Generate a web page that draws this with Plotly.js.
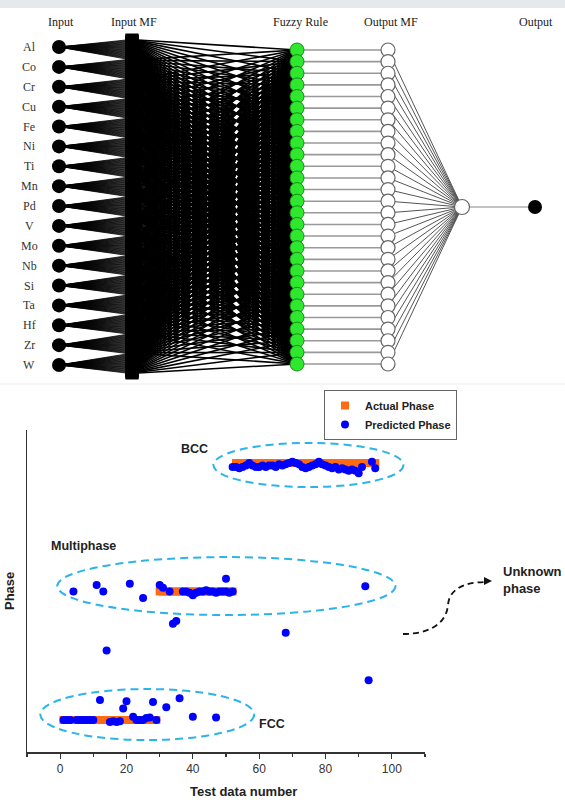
<!DOCTYPE html>
<html>
<head>
<meta charset="utf-8">
<script src="https://cdn.plot.ly/plotly-3.0.1.min.js"></script>
<style>html,body{margin:0;padding:0;background:#fff;}#chart{width:565px;height:800px;}</style>
</head>
<body>
<div id="chart"></div>
<script>
// ---------- DATA ----------
// ANFIS structure (top diagram)
const inputNames = ['Al','Co','Cr','Cu','Fe','Ni','Ti','Mn','Pd','V','Mo','Nb','Si','Ta','Hf','Zr','W'];
const nRules = 28;
const layerNames = ['Input','Input MF','Fuzzy Rule','Output MF','Output'];

// Phase codes: 1 = FCC, 2 = Multiphase, 3 = BCC
const phaseLabels = ['FCC','Multiphase','BCC'];

// Actual phase of each test data number
const actualX = [1,2,3,4,5,6,7,8,9,10,11,12,13,14,15,16,17,18,19,20,21,22,23,24,25,26,27,28,29,
  30,31,32,33,34,35,36,37,38,39,40,41,42,43,44,45,46,47,48,49,50,51,52,
  53,54,55,56,57,58,59,60,61,62,63,64,65,66,67,68,69,70,71,72,73,74,75,76,77,78,79,80,81,82,83,84,85,86,87,88,89,90,91,92,93,94,95];
const actualY = [1,1,1,1,1,1,1,1,1,1,1,1,1,1,1,1,1,1,1,1,1,1,1,1,1,1,1,1,1,
  2,2,2,2,2,2,2,2,2,2,2,2,2,2,2,2,2,2,2,2,2,2,2,
  3,3,3,3,3,3,3,3,3,3,3,3,3,3,3,3,3,3,3,3,3,3,3,3,3,3,3,3,3,3,3,3,3,3,3,3,3,3,3,3,3,3,3];

// Predicted phase
const predX = [1,2,3,5,6,7,8,9,10,12,15,16,17,18,19,20,22,23,24,25,26,27,28,29,32,36,40,47,
  4,11,13,21,25,30,31,33,37,38,39,40,41,42,43,44,45,46,47,48,49,50,51,52,50,92,
  14,34,35,68,93,
  52,53,54,55,56,57,58,59,60,61,62,63,64,65,66,67,68,69,70,71,72,73,74,75,76,77,78,79,80,81,82,83,84,85,86,87,88,89,90,91,94,95];
const predY = [1.0,1.0,1.0,1.0,1.0,1.0,1.0,1.0,1.0,1.156,0.985,0.99,0.985,0.99,1.09,1.145,1.025,1.0,1.0,1.0,1.015,1.02,1.14,1.0,1.1,1.17,1.025,1.02,
  2.0,2.05,2.0,2.06,1.95,2.05,2.03,2.0,2.0,2.0,1.99,1.97,1.99,2.0,2.0,2.01,2.0,2.0,1.99,2.0,2.0,2.0,1.99,2.0,2.1,2.04,
  1.54,1.75,1.77,1.68,1.31,
  2.97,2.97,2.96,2.97,2.98,3.0,2.98,2.97,2.97,2.98,2.97,2.98,2.98,2.97,2.99,2.98,2.99,3.0,3.01,3.0,2.99,2.97,2.96,2.97,2.98,2.99,3.01,2.99,2.98,2.97,2.96,2.97,2.95,2.96,2.95,2.94,2.95,2.94,2.92,2.97,3.01,2.96];

// ---------- GEOMETRY (diagram layout, pixels) ----------
const W = 565, H = 800;
const G = {inX:59, inY0:47, inY1:365, mfXa:126, mfX:132, mfXb:138, mfY0:40, mfY1:373,
  ruleX:297, ruleY0:50, ruleY1:364, omfX:388, aggX:462, aggY:207, outX:535, hdrY:22, nameX:29};
const hdrX = [61,134,300,391,536];

const nIn = inputNames.length;
const inY = i => G.inY0 + i*(G.inY1-G.inY0)/(nIn-1);
const mfY = (i,j) => G.mfY0 + (i*nRules + j)*(G.mfY1-G.mfY0)/(nIn*nRules-1);
const ruleY = j => G.ruleY0 + j*(G.ruleY1-G.ruleY0)/(nRules-1);

const fanX=[], fanY=[], crossX=[], crossY=[], mfNX=[], mfNY=[];
for (let i=0;i<nIn;i++){
  for (let j=0;j<nRules;j++){
    fanX.push(G.inX, G.mfXa, null); fanY.push(inY(i), mfY(i,j), null);
    crossX.push(G.mfXb, G.ruleX, null); crossY.push(mfY(i,j), ruleY(j), null);
    mfNX.push(G.mfX); mfNY.push(mfY(i,j));
  }
}
const rX=[], rY=[], oX=[], oY=[], hX=[], hY=[], aX=[], aY=[];
for (let j=0;j<nRules;j++){
  rX.push(G.ruleX); rY.push(ruleY(j));
  oX.push(G.omfX); oY.push(ruleY(j));
  hX.push(G.ruleX, G.omfX, null); hY.push(ruleY(j), ruleY(j), null);
  aX.push(G.omfX, G.aggX, null); aY.push(ruleY(j), G.aggY, null);
}
const inXs = inputNames.map(()=>G.inX), inYs = inputNames.map((_,i)=>inY(i));

const D = {xaxis:'x2', yaxis:'y2', showlegend:false, hoverinfo:'skip'};
const traces = [
  Object.assign({type:'scatter', mode:'lines', x:crossX, y:crossY, line:{color:'#000', width:1.6}}, D),
  Object.assign({type:'scatter', mode:'lines', x:fanX, y:fanY, line:{color:'#000', width:0.8}}, D),
  Object.assign({type:'scatter', mode:'markers', x:mfNX, y:mfNY, marker:{symbol:'square', size:13, color:'#000'}}, D),
  Object.assign({type:'scatter', mode:'lines', x:hX, y:hY, line:{color:'#999', width:1.6}}, D),
  Object.assign({type:'scatter', mode:'lines', x:aX, y:aY, line:{color:'#555', width:1}}, D),
  Object.assign({type:'scatter', mode:'lines', x:[G.aggX, G.outX], y:[G.aggY, G.aggY], line:{color:'#888', width:1.2}}, D),
  Object.assign({type:'scatter', mode:'markers', x:inXs, y:inYs, marker:{size:14, color:'#000'}}, D),
  Object.assign({type:'scatter', mode:'markers', x:rX, y:rY, marker:{size:14, color:'#2ee82e', line:{color:'#1d8a1d', width:1}}}, D),
  Object.assign({type:'scatter', mode:'markers', x:oX, y:oY, marker:{size:14, color:'#fff', line:{color:'#666', width:1.2}}}, D),
  Object.assign({type:'scatter', mode:'markers', x:[G.aggX], y:[G.aggY], marker:{size:15, color:'#fff', line:{color:'#666', width:1.2}}}, D),
  Object.assign({type:'scatter', mode:'markers', x:[G.outX], y:[G.aggY], marker:{size:14, color:'#000'}}, D),
  // bottom chart
  {type:'scatter', mode:'markers', name:'Actual Phase', x:actualX, y:actualY, xaxis:'x', yaxis:'y',
   marker:{symbol:'square', size:8, color:'#ff6a13'}},
  {type:'scatter', mode:'markers', name:'Predicted Phase', x:predX, y:predY, xaxis:'x', yaxis:'y',
   marker:{symbol:'circle', size:8, color:'#0000ff'}}
];

const PX = x => x/W, PY = y => 1 - y/H;
const serif = 'Liberation Serif, Times New Roman, serif';
const sans = 'Liberation Sans, Arial, sans-serif';

const annotations = [];
layerNames.forEach((t,k)=>annotations.push({xref:'x2', yref:'y2', x:hdrX[k], y:G.hdrY, text:t, showarrow:false,
  xanchor:'center', yanchor:'middle', font:{family:serif, size:12, color:'#222'}}));
inputNames.forEach((t,i)=>annotations.push({xref:'x2', yref:'y2', x:G.nameX, y:inY(i), text:t, showarrow:false,
  xanchor:'center', yanchor:'middle', font:{family:serif, size:12, color:'#333'}}));

const lbl = (t,x,y,anchor,sz)=>({xref:'paper', yref:'paper', x:PX(x), y:PY(y), text:t, showarrow:false,
  xanchor:anchor||'center', yanchor:'middle', align:'left', font:{family:sans, size:sz||12.5, color:'#222', weight:'bold'}});
annotations.push(lbl(phaseLabels[2], 194, 449));
annotations.push(lbl(phaseLabels[1], 83, 546));
annotations.push(lbl(phaseLabels[0], 272, 724));
annotations.push(lbl('Unknown<br>phase', 501, 580, 'left', 13));
annotations.push({xref:'paper', yref:'paper', x:PX(243), y:PY(791), text:'Test data number', showarrow:false,
  xanchor:'center', yanchor:'middle', font:{family:sans, size:13, color:'#222', weight:'bold'}});
annotations.push({xref:'paper', yref:'paper', x:PX(9), y:PY(591), text:'Phase', textangle:-90, showarrow:false,
  xanchor:'center', yanchor:'middle', font:{family:sans, size:13, color:'#222', weight:'bold'}});
// arrow head for the dashed curve
annotations.push({xref:'paper', yref:'paper', x:PX(492), y:PY(581), ax:-7, ay:0, axref:'pixel', ayref:'pixel',
  text:'', showarrow:true, arrowhead:2, arrowsize:1, arrowwidth:1.6, arrowcolor:'#111'});

const ell = (x0,x1,y0,y1)=>({type:'circle', xref:'x', yref:'y', x0:x0, x1:x1, y0:y0, y1:y1,
  line:{color:'#2ab4ea', width:2, dash:'8px,5px'}, layer:'above'});
const pp = (x,y)=>PX(x).toFixed(5)+','+PY(y).toFixed(5);
const shapes = [
  {type:'rect', xref:'paper', yref:'paper', x0:0, x1:1, y0:PY(8), y1:1, line:{width:0}, fillcolor:'#e3e9ed', layer:'below'},
  {type:'line', xref:'paper', yref:'paper', x0:0, x1:1, y0:PY(384), y1:PY(384), line:{color:'#ececec', width:1}},
  ell(46.2,103.5,2.813,3.156),
  ell(-0.9,101.1,1.817,2.268),
  ell(-6.0,58.5,0.844,1.241),
  {type:'path', xref:'paper', yref:'paper',
   path:'M'+pp(403,634)+' C'+pp(426,634)+' '+pp(446,626)+' '+pp(448,605)+' C'+pp(449,590)+' '+pp(463,582)+' '+pp(486,582),
   line:{color:'#111', width:1.8, dash:'6px,4px'}}
];

const layout = {
  width:W, height:H, margin:{l:0,r:0,t:0,b:0}, paper_bgcolor:'#fff', plot_bgcolor:'rgba(0,0,0,0)',
  showlegend:true,
  legend:{x:PX(324), y:PY(390), xanchor:'left', yanchor:'top', bgcolor:'#fff', bordercolor:'#666', borderwidth:1,
    font:{family:sans, size:11, color:'#222', weight:'bold'}, tracegroupgap:0, itemwidth:30},
  xaxis:{domain:[PX(27),PX(425)], range:[-10,110], anchor:'y', showline:true, linecolor:'#333', linewidth:1.5,
    ticks:'outside', ticklen:5, tickwidth:1.2, tickcolor:'#333', tick0:0, dtick:20,
    minor:{ticks:'outside', dtick:10, ticklen:3, tickwidth:1.2, tickcolor:'#333', showgrid:false},
    showgrid:false, zeroline:false, tickfont:{family:sans, size:12, color:'#333'}, automargin:false, fixedrange:true},
  yaxis:{domain:[PY(752),PY(430)], range:[0.751,3.257], anchor:'x', showline:true, linecolor:'#333', linewidth:1.5,
    showticklabels:false, ticks:'', showgrid:false, zeroline:false, automargin:false, fixedrange:true},
  xaxis2:{domain:[0,1], range:[0,W], anchor:'y2', visible:false, fixedrange:true},
  yaxis2:{domain:[PY(380),1], range:[380,0], anchor:'x2', visible:false, fixedrange:true},
  annotations:annotations, shapes:shapes
};
Plotly.newPlot('chart', traces, layout, {staticPlot:true, displayModeBar:false});
</script>
</body>
</html>
